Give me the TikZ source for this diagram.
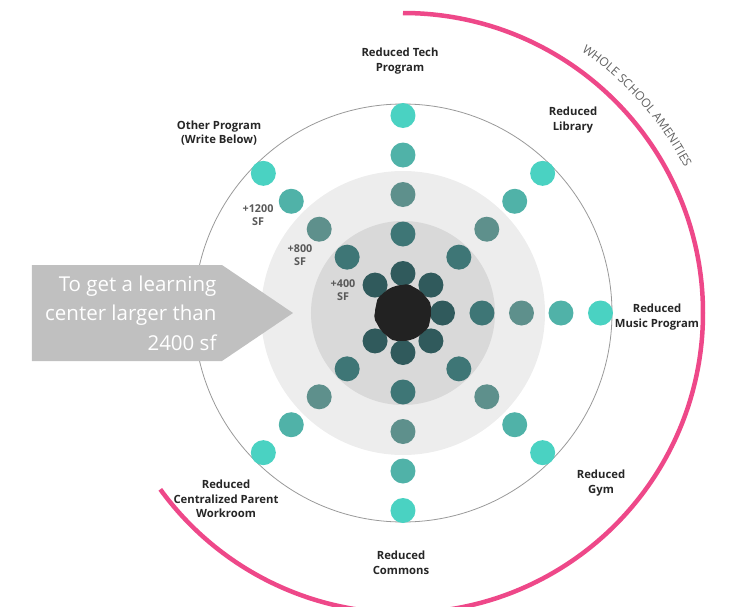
\documentclass[tikz,border=0pt]{standalone}
\usepackage{fontspec}
\setsansfont{Open Sans}
\usepackage{tikz}
\usetikzlibrary{positioning}
\usetikzlibrary{decorations.text}

\definecolor{ring1}{RGB}{48,90,92}
\definecolor{ring2}{RGB}{62,118,118}
\definecolor{ring3}{RGB}{94,144,140}
\definecolor{ring4}{RGB}{80,178,168}
\definecolor{ring5}{RGB}{74,210,194}
\definecolor{hub}{RGB}{34,34,34}
\definecolor{amenity}{RGB}{238,72,137}
\definecolor{pointer}{RGB}{192,192,192}

\begin{document}
\begin{tikzpicture}[x=1pt,y=1pt,
    dot/.style={circle,inner sep=0pt,minimum size=25pt},
    lbl/.style={font=\sffamily\bfseries\fontsize{11.3}{14.5}\selectfont,align=center,text=black!85},
    sf/.style={font=\sffamily\bfseries\fontsize{10.8}{13}\selectfont,align=center,text=black!65}]
    \useasboundingbox (-403,-293) rectangle (326,313);
    \fill[black!7] (0,0) circle[radius=142pt];
    \fill[black!15] (0,0) circle[radius=92pt];
    \draw[black!40,line width=0.8pt] (0,0) circle[radius=209pt];
    \foreach \r/\c in {1/ring1,2/ring2,3/ring3,4/ring4,5/ring5}
      \foreach \a in {0,45,90,135,225,270,315}
        \node[dot,fill=\c] (d\r-\a) at (\a:39.5*\r) {};
    \node[circle,fill=hub,minimum size=56pt] (hub) at (0,0) {};
    \foreach \a in {20,80,150,190,250,330}
      \fill[hub] (\a:17) circle[radius=12pt];
    \draw[amenity,line width=4.5pt] (90:300pt) arc[start angle=90,end angle=-144,radius=300pt];
    \path[decorate,decoration={text along path,text align=center,
        text={|\sffamily\fontsize{12}{14}\selectfont\color{black!62}|WHOLE SCHOOL AMENITIES}}]
        (60:317pt) arc[start angle=60,end angle=23,radius=317pt];
    \fill[pointer] (-371,48) -- (-181,48) -- (-110,0) -- (-181,-48) -- (-371,-48) -- cycle;
    \node[anchor=east,align=right,text=white,font=\sffamily\fontsize{20.5}{29.5}\selectfont] (goal) at (-183,0)
        {To get a learning\\center larger than\\2400 sf};
    \node[lbl] (tech) at (-3,252) {Reduced Tech\\Program};
    \node[lbl] (library) at (170,193) {Reduced\\Library};
    \node[lbl] (music) at (254,-4) {Reduced\\Music Program};
    \node[lbl] (gym) at (198,-170) {Reduced\\Gym};
    \node[lbl] (commons) at (-2,-250) {Reduced\\Commons};
    \node[lbl] (parent) at (-177,-186) {Reduced\\Centralized Parent\\Workroom};
    \node[lbl] (other) at (-184,180) {Other Program\\(Write Below)};
    \node[sf] (sf1200) at (-145,98) {+1200\\SF};
    \node[sf] (sf800) at (-103,58) {+800\\SF};
    \node[sf] (sf400) at (-60,23) {+400\\SF};
\end{tikzpicture}
\end{document}
